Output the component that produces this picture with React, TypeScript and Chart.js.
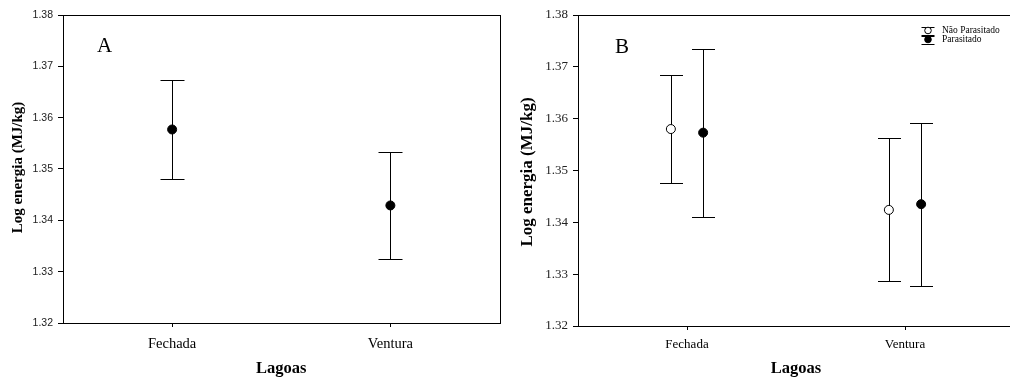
import React, { useEffect, useRef } from "react";
import { Chart, registerables } from "chart.js";

Chart.register(...registerables);

// ---------- data ----------
const categories = ["Fechada", "Ventura"];
const yTickValues = [1.32, 1.33, 1.34, 1.35, 1.36, 1.37, 1.38];

// Panel A (all fish)
const meanA = [1.3577, 1.3429];
const errA = [0.0097, 0.0105];

// Panel B (by parasitism)
const seriesNames = ["Não Parasitado", "Parasitado"];
const meanNaoParasitado = [1.358, 1.3424];
const errNaoParasitado = [0.0105, 0.0138];
const meanParasitado = [1.3573, 1.3435];
const errParasitado = [0.0162, 0.0157];

const SERIF = '"Liberation Serif", "Times New Roman", serif';
const SANS = '"Liberation Sans", Arial, sans-serif';

// ---------- plugins ----------
const errorBarPlugin = {
  id: "errorBars",
  beforeDatasetsDraw(chart: any, _args: any, opts: any) {
    const ctx = chart.ctx;
    const ys = chart.scales.y;
    const cap = opts.cap || 11;
    ctx.save();
    ctx.strokeStyle = "#000";
    ctx.lineWidth = 1;
    chart.data.datasets.forEach((ds: any, di: number) => {
      const meta = chart.getDatasetMeta(di);
      meta.data.forEach((el: any, i: number) => {
        const m = ds.data[i].y;
        const e = ds.errors[i];
        const x = Math.round(el.x) + 0.5;
        const yt = Math.round(ys.getPixelForValue(m + e)) + 0.5;
        const yb = Math.round(ys.getPixelForValue(m - e)) + 0.5;
        ctx.beginPath();
        ctx.moveTo(x, yt);
        ctx.lineTo(x, yb);
        ctx.moveTo(x - cap, yt);
        ctx.lineTo(x + cap, yt);
        ctx.moveTo(x - cap, yb);
        ctx.lineTo(x + cap, yb);
        ctx.stroke();
      });
    });
    ctx.restore();
  },
};

const decorPlugin = {
  id: "decor",
  afterDraw(chart: any, _args: any, o: any) {
    const ctx = chart.ctx;
    const a = chart.chartArea;
    ctx.save();
    // frame
    ctx.strokeStyle = "#000";
    ctx.lineWidth = 1;
    const l = Math.round(a.left) + 0.5;
    const t = Math.round(a.top) + 0.5;
    const r = Math.round(a.right) + 0.5;
    const b = Math.round(a.bottom) + 0.5;
    ctx.strokeRect(l, t, r - l, b - t);

    ctx.fillStyle = "#000";
    // panel letter
    ctx.font = `${o.letterSize}px ${SERIF}`;
    ctx.textAlign = "left";
    ctx.textBaseline = "alphabetic";
    ctx.fillText(o.letter, o.letterX, o.letterY);

    // x title
    ctx.font = `bold ${o.xTitleSize}px ${SERIF}`;
    ctx.textAlign = "center";
    ctx.fillText("Lagoas", (a.left + a.right) / 2, o.xTitleY);

    // y title
    ctx.save();
    ctx.translate(o.yTitleX, o.yTitleY);
    ctx.rotate(-Math.PI / 2);
    ctx.font = `bold ${o.yTitleSize}px ${SERIF}`;
    ctx.textAlign = "center";
    ctx.textBaseline = "middle";
    ctx.fillText("Log energia (MJ/kg)", 0, 0);
    ctx.restore();

    // legend
    if (o.legend) {
      const lg = o.legend;
      chart.data.datasets.forEach((ds: any, i: number) => {
        const cy = lg.y0 + i * lg.dy;
        const cx = lg.symX;
        ctx.strokeStyle = "#000";
        ctx.lineWidth = 1;
        ctx.beginPath();
        ctx.moveTo(cx - lg.capHalf, Math.round(cy - lg.capOff) + 0.5);
        ctx.lineTo(cx + lg.capHalf, Math.round(cy - lg.capOff) + 0.5);
        ctx.moveTo(cx - lg.capHalf, Math.round(cy + lg.capOff) + 0.5);
        ctx.lineTo(cx + lg.capHalf, Math.round(cy + lg.capOff) + 0.5);
        ctx.stroke();
        ctx.beginPath();
        ctx.arc(cx, cy, lg.r, 0, Math.PI * 2);
        ctx.fillStyle = ds.pointBackgroundColor;
        ctx.fill();
        ctx.stroke();
        ctx.fillStyle = "#000";
        ctx.font = `${lg.size}px ${SERIF}`;
        ctx.textAlign = "left";
        ctx.textBaseline = "middle";
        ctx.fillText(ds.label, lg.textX, cy);
      });
    }
    ctx.restore();
  },
};

// ---------- chart factory ----------
function buildConfig(p: any) {
  const { width, height, area } = p;
  return {
    type: "scatter",
    data: { datasets: p.datasets },
    plugins: [errorBarPlugin, decorPlugin],
    options: {
      responsive: false,
      animation: false,
      devicePixelRatio: 1,
      layout: {
        padding: { left: 0, top: area.top, right: width - area.right, bottom: 0 },
      },
      plugins: {
        legend: { display: false },
        tooltip: { enabled: false },
        title: { display: false },
        errorBars: { cap: p.cap },
        decor: p.decor,
      },
      scales: {
        x: {
          type: "linear",
          min: -0.5,
          max: categories.length - 0.5,
          afterBuildTicks: (s: any) => {
            s.ticks = categories.map((_, i) => ({ value: i }));
          },
          afterFit: (s: any) => {
            s.height = height - area.bottom;
          },
          ticks: {
            autoSkip: false,
            maxRotation: 0,
            padding: p.xTickPad,
            color: "#000",
            font: { family: SERIF, size: p.xTickSize },
            callback: (v: any) => categories[Math.round(v)] ?? "",
          },
          grid: {
            drawOnChartArea: false,
            drawTicks: true,
            tickLength: 4,
            color: "#000",
          },
          border: { display: true, color: "#000" },
        },
        y: {
          type: "linear",
          min: yTickValues[0],
          max: yTickValues[yTickValues.length - 1],
          afterBuildTicks: (s: any) => {
            s.ticks = yTickValues.map((v) => ({ value: v }));
          },
          afterFit: (s: any) => {
            s.width = area.left;
          },
          ticks: {
            padding: 5,
            color: "#222",
            font: { family: p.yTickFamily, size: p.yTickSize },
            callback: (v: any) => Number(v).toFixed(2),
          },
          grid: {
            drawOnChartArea: false,
            drawTicks: true,
            tickLength: 5,
            color: "#000",
          },
          border: { display: true, color: "#000" },
        },
      },
    },
  };
}

function Panel({ spec, left }: { spec: any; left: number }) {
  const ref = useRef<HTMLCanvasElement | null>(null);
  useEffect(() => {
    if (!ref.current) return;
    const chart = new Chart(ref.current, buildConfig(spec) as any);
    return () => chart.destroy();
  }, []);
  return (
    <div style={{ position: "absolute", left, top: 0, width: spec.width, height: spec.height }}>
      <canvas
        ref={ref}
        width={spec.width}
        height={spec.height}
        style={{ width: spec.width, height: spec.height, display: "block" }}
      />
    </div>
  );
}

const GROUP_OFFSET = 0.074;

const specA = {
  width: 505,
  height: 378,
  area: { left: 63, top: 15, right: 500, bottom: 323 },
  cap: 12,
  xTickSize: 14.5,
  xTickPad: 8,
  yTickFamily: SANS,
  yTickSize: 10.5,
  datasets: [
    {
      label: "Lagoas",
      data: categories.map((_, i) => ({ x: i, y: meanA[i] })),
      errors: errA,
      pointRadius: 4.5,
      pointBackgroundColor: "#000",
      pointBorderColor: "#000",
      pointBorderWidth: 1,
      showLine: false,
    },
  ],
  decor: {
    letter: "A",
    letterSize: 21,
    letterX: 97,
    letterY: 52,
    xTitleSize: 16.5,
    xTitleY: 373,
    yTitleSize: 15,
    yTitleX: 18,
    yTitleY: 167.5,
  },
};

const specB = {
  width: 515,
  height: 378,
  area: { left: 73, top: 15, right: 509, bottom: 326 },
  cap: 11.5,
  xTickSize: 13,
  xTickPad: 7,
  yTickFamily: SERIF,
  yTickSize: 13,
  datasets: [
    {
      label: seriesNames[0],
      data: categories.map((_, i) => ({ x: i - GROUP_OFFSET, y: meanNaoParasitado[i] })),
      errors: errNaoParasitado,
      pointRadius: 4.5,
      pointBackgroundColor: "#fff",
      pointBorderColor: "#000",
      pointBorderWidth: 1,
      showLine: false,
    },
    {
      label: seriesNames[1],
      data: categories.map((_, i) => ({ x: i + GROUP_OFFSET, y: meanParasitado[i] })),
      errors: errParasitado,
      pointRadius: 4.5,
      pointBackgroundColor: "#000",
      pointBorderColor: "#000",
      pointBorderWidth: 1,
      showLine: false,
    },
  ],
  decor: {
    letter: "B",
    letterSize: 21,
    letterX: 110,
    letterY: 53,
    xTitleSize: 16.5,
    xTitleY: 373,
    yTitleSize: 17,
    yTitleX: 23,
    yTitleY: 172,
    legend: {
      symX: 423,
      textX: 437,
      y0: 30.5,
      dy: 9,
      r: 3.3,
      capHalf: 6.5,
      capOff: 4,
      size: 9.5,
    },
  },
};

export default function App() {
  return (
    <div
      style={{
        position: "absolute",
        left: 0,
        top: 0,
        width: 1010,
        height: 378,
        overflow: "hidden",
        background: "#fff",
      }}
    >
      <Panel spec={specA} left={0} />
      <Panel spec={specB} left={505} />
    </div>
  );
}
